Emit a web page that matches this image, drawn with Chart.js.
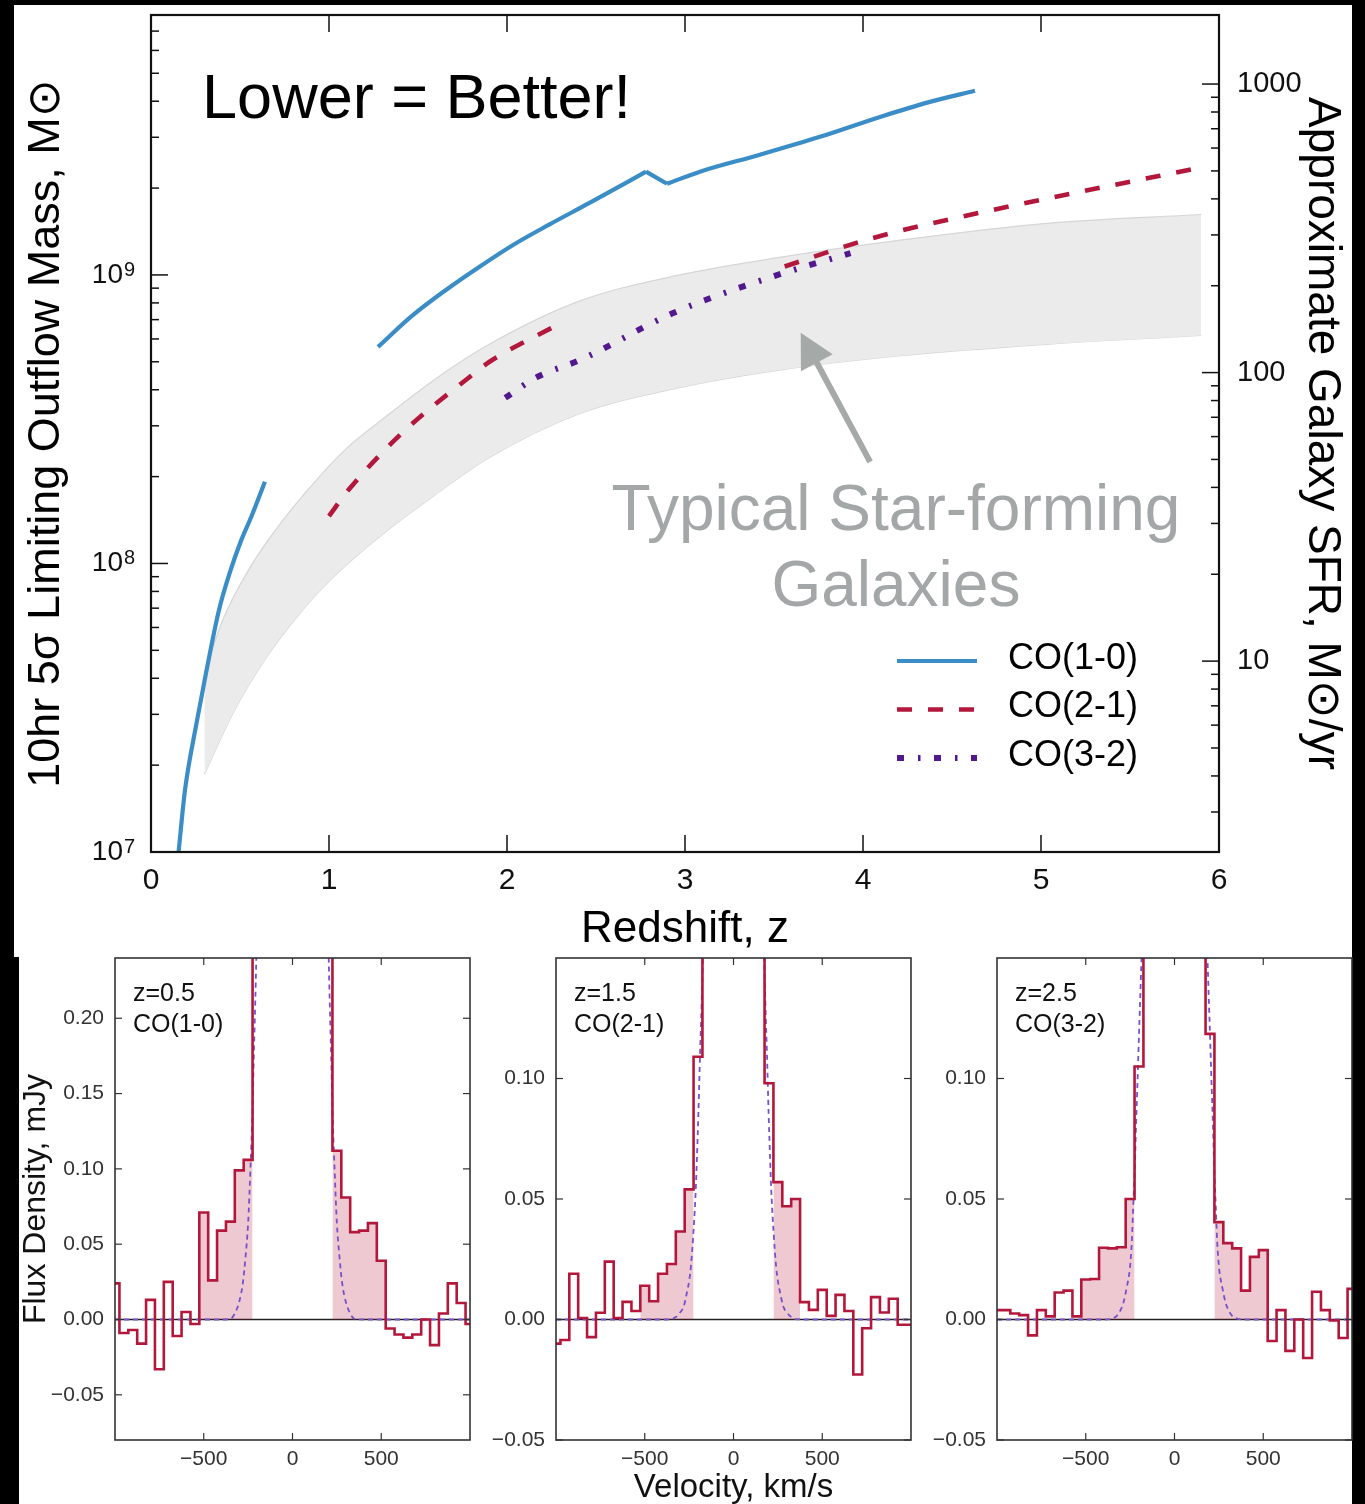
<!DOCTYPE html>
<html>
<head>
<meta charset="utf-8">
<script src="https://cdn.jsdelivr.net/npm/chart.js@4.4.1/dist/chart.umd.min.js"></script>
<style>
  html, body { margin: 0; padding: 0; background: #000; }
  body { width: 1365px; height: 1504px; position: relative; overflow: hidden; }
  .paper { position: absolute; background: #fff; }
  canvas { position: absolute; }
</style>
</head>
<body>
<div class="paper" style="left:14px;top:5px;width:1338px;height:952px"></div>
<div class="paper" style="left:19px;top:957px;width:1333px;height:547px"></div>
<canvas id="main-chart" width="1365" height="957" style="left:0;top:0"></canvas>
<canvas id="spec-1" width="460" height="549" style="left:20px;top:955px"></canvas>
<canvas id="spec-2" width="440" height="549" style="left:480px;top:955px"></canvas>
<canvas id="spec-3" width="445" height="549" style="left:920px;top:955px"></canvas>
<script>
const FONT = '"Liberation Sans", Arial, Helvetica, sans-serif';
const BLUE = '#3A8DC6';
const RED = '#B3173B';
const PURPLE = '#52198E';
const MODEL = '#7652C9';

// ---- top panel: limiting outflow mass vs redshift ----
const zTicks = [0, 1, 2, 3, 4, 5, 6];
const massTicks = [1e7, 1e8, 1e9];
const massTickBase = ['10', '10', '10'];
const massTickExp = ['7', '8', '9'];
const massMinorTicks = [2e7, 3e7, 4e7, 5e7, 6e7, 7e7, 8e7, 9e7, 2e8, 3e8, 4e8, 5e8, 6e8, 7e8, 8e8, 9e8, 2e9, 3e9, 4e9, 5e9, 6e9, 7e9];
const sfrTicks = [10, 100, 1000];
const sfrMinorTicks = [3, 4, 5, 6, 7, 8, 9, 20, 30, 40, 50, 60, 70, 80, 90, 200, 300, 400, 500, 600, 700, 800, 900];

const co10LowZ = [0.155, 0.191, 0.256, 0.309, 0.382, 0.444, 0.506, 0.567, 0.640];
const co10LowMass = [1.0e7, 1.64e7, 2.80e7, 4.17e7, 6.90e7, 9.35e7, 1.20e8, 1.47e8, 1.92e8];
const co10HighZ = [1.275, 1.466, 1.657, 1.848, 2.034, 2.242, 2.466, 2.781, 2.899, 3.084, 3.421, 3.758, 4.096, 4.376, 4.629];
const co10HighMass = [5.63e8, 7.21e8, 8.87e8, 1.07e9, 1.27e9, 1.50e9, 1.78e9, 2.28e9, 2.07e9, 2.28e9, 2.61e9, 3.01e9, 3.53e9, 3.98e9, 4.35e9];
const co10HighCorners = [7, 8]; // the sharp peak and dip of the curve
const co21LowZ = [1.00, 1.11, 1.41, 1.79, 1.90, 2.29];
const co21LowMass = [1.46e8, 1.80e8, 2.83e8, 4.43e8, 4.99e8, 6.75e8];
const co21HighZ = [3.56, 4.05, 4.69, 5.18, 5.89];
const co21HighMass = [1.07e9, 1.34e9, 1.66e9, 1.92e9, 2.35e9];
const co32Z = [1.99, 2.17, 2.41, 2.93, 3.49, 3.93];
const co32Mass = [3.75e8, 4.43e8, 5.07e8, 7.36e8, 9.86e8, 1.19e9];

// shaded band of typical star-forming galaxies
const bandUpperZ = [0.30, 0.40, 0.56, 0.74, 0.93, 1.10, 1.30, 1.60, 1.90, 2.41, 2.97, 3.53, 4.21, 5.03, 5.90];
const bandUpper = [4.17e7, 6.31e7, 9.77e7, 1.41e8, 1.95e8, 2.51e8, 3.16e8, 4.37e8, 5.75e8, 8.13e8, 1.0e9, 1.15e9, 1.32e9, 1.51e9, 1.62e9];
const bandLowerZ = [0.30, 0.46, 0.65, 0.84, 1.02, 1.21, 1.40, 1.58, 1.88, 2.41, 2.97, 3.53, 4.21, 5.03, 5.90];
const bandLower = [1.86e7, 3.02e7, 4.74e7, 6.76e7, 8.91e7, 1.135e8, 1.41e8, 1.70e8, 2.29e8, 3.31e8, 4.07e8, 4.68e8, 5.25e8, 5.75e8, 6.17e8];

// annotation anchors in data units (z, mass)
const headlineAt = { z: 0.287, m: 3.5e9 };
const bandLabelAt = { z: 4.185, m: 1.31e8, m2: 7.13e7 };
const arrowFrom = { z: 4.04, m: 2.25e8 };
const arrowTo = { z: 3.65, m: 6.3e8 };

// ---- bottom panels: spectra ----
const velocity = [-1000, -950, -900, -850, -800, -750, -700, -650, -600, -550, -500, -450, -400, -350, -300, -250, -200, -150, -100, -50, 0,
  50, 100, 150, 200, 250, 300, 350, 400, 450, 500, 550, 600, 650, 700, 750, 800, 850, 900, 950, 1000];
const velTicks = [-500, 0, 500];

const flux1 = [0.024, -0.009, -0.007, -0.016, 0.013, -0.033, 0.025, -0.011, 0.005, -0.003, 0.071, 0.026, 0.059, 0.065, 0.099, 0.106, 0.42, 0.9, 1.6, 2.2, 2.5,
  2.2, 1.6, 0.9, 0.42, 0.112, 0.081, 0.058, 0.059, 0.064, 0.039, -0.006, -0.010, -0.012, -0.010, 0.000, -0.017, 0.004, 0.024, 0.011, -0.003];
const flux2 = [-0.010, -0.0085, 0.019, 0.0006, -0.0073, 0.0028, 0.024, 0.0006, 0.0073, 0.0035, 0.014, 0.0076, 0.019, 0.023, 0.0365, 0.054, 0.109, 0.25, 0.55, 0.8, 0.9,
  0.8, 0.55, 0.25, 0.098, 0.057, 0.047, 0.050, 0.0072, 0.004, 0.0123, 0.0015, 0.0102, 0.0035, -0.0228, -0.0036, 0.0093, 0.0029, 0.0086, -0.0022, -0.0022];
const flux3 = [0.0039, 0.0039, 0.0025, 0.0018, -0.0066, 0.0039, 0.0013, 0.0112, 0.012, 0.0013, 0.0166, 0.0168, 0.0298, 0.0295, 0.030, 0.050, 0.105, 0.25, 0.55, 0.8, 0.9,
  0.8, 0.55, 0.25, 0.1185, 0.0404, 0.0317, 0.0295, 0.012, 0.026, 0.0288, -0.0089, 0.0039, -0.013, 0.0, -0.016, 0.0115, 0.0039, -0.0004, -0.0077, 0.0127];

const modelVel1 = [-1000, -400, -348, -325, -302, -280, -265, -250, -237, -225, -218, -210, -204, -195, -150, 0, 150, 195, 204, 210, 218, 225, 237, 250, 265, 280, 302, 325, 348, 400, 1000];
const model1 = [0, 0, 0.0005, 0.004, 0.011, 0.024, 0.041, 0.064, 0.10, 0.14, 0.175, 0.21, 0.24, 0.30, 0.80, 3.4, 0.80, 0.30, 0.24, 0.21, 0.175, 0.14, 0.10, 0.064, 0.041, 0.024, 0.011, 0.004, 0.0005, 0, 0];
const modelVel2 = [-1000, -400, -350, -325, -300, -280, -263, -250, -240, -226, -215, -207, -198, -189, -180, -170, -150, 0, 150, 170, 180, 189, 198, 207, 215, 226, 240, 250, 263, 280, 300, 325, 350, 400, 1000];
const model2 = [0, 0, 0.0002, 0.001, 0.003, 0.0055, 0.011, 0.016, 0.022, 0.036, 0.05, 0.065, 0.085, 0.109, 0.13, 0.16, 0.28, 1.43, 0.28, 0.16, 0.13, 0.109, 0.085, 0.065, 0.05, 0.036, 0.022, 0.016, 0.011, 0.0055, 0.003, 0.001, 0.0002, 0, 0];
const modelVel3 = [-1000, -400, -353, -325, -300, -288, -270, -251, -240, -232, -224, -217, -210, -204, -197, -191, -180, -150, 0, 150, 180, 191, 197, 204, 210, 217, 224, 232, 240, 251, 270, 288, 300, 325, 353, 400, 1000];
const model3 = [0, 0, 0.0004, 0.0015, 0.0045, 0.0069, 0.013, 0.0215, 0.033, 0.048, 0.062, 0.08, 0.095, 0.109, 0.125, 0.138, 0.17, 0.39, 1.78, 0.39, 0.17, 0.138, 0.125, 0.109, 0.095, 0.08, 0.062, 0.048, 0.033, 0.0215, 0.013, 0.0069, 0.0045, 0.0015, 0.0004, 0, 0];

const shade1 = [[-525, -225], [225, 525]];
const shade2 = [[-525, -225], [225, 375]];
const shade3 = [[-525, -225], [225, 525]];

function pts(xs, ys) {
  return xs.map((x, i) => ({ x: x, y: ys[i] }));
}

// cut one curve into pieces at the given point indices (sharp corners)
function pieces(xs, ys, cuts) {
  const out = [];
  let s = 0;
  cuts.concat([xs.length - 1]).forEach(c => {
    out.push(pts(xs.slice(s, c + 1), ys.slice(s, c + 1)));
    s = c;
  });
  return out;
}

function seg(ctx, x1, y1, x2, y2) {
  ctx.beginPath();
  ctx.moveTo(x1, y1);
  ctx.lineTo(x2, y2);
  ctx.stroke();
}

function minus(s) {
  return String(s).replace('-', '\u2212');
}

// scales keep no extra room for their outer labels; the layout is set by afterFit
function noPad(s) {
  s.paddingTop = 0; s.paddingBottom = 0; s.paddingLeft = 0; s.paddingRight = 0;
}

// frame, inward ticks, annotations and legend of the top panel
const mainDecor = {
  id: 'mainDecor',
  afterDatasetsDraw(chart) {
    const { ctx, chartArea: a, scales } = chart;
    const x = scales.x, y = scales.y, y2 = scales.y2;
    ctx.save();

    // texts
    ctx.textBaseline = 'alphabetic';
    ctx.fillStyle = '#000';
    ctx.font = '63px ' + FONT;
    ctx.textAlign = 'left';
    ctx.fillText('Lower = Better!', x.getPixelForValue(headlineAt.z), y.getPixelForValue(headlineAt.m));

    ctx.fillStyle = '#A3A7A7';
    ctx.font = '64px ' + FONT;
    ctx.textAlign = 'center';
    ctx.fillText('Typical Star-forming', x.getPixelForValue(bandLabelAt.z), y.getPixelForValue(bandLabelAt.m));
    ctx.fillText('Galaxies', x.getPixelForValue(bandLabelAt.z), y.getPixelForValue(bandLabelAt.m2));

    // arrow
    const tx = x.getPixelForValue(arrowTo.z), ty = y.getPixelForValue(arrowTo.m);
    const fx = x.getPixelForValue(arrowFrom.z), fy = y.getPixelForValue(arrowFrom.m);
    const len = Math.hypot(tx - fx, ty - fy);
    const ux = (tx - fx) / len, uy = (ty - fy) / len;
    const bx = tx - ux * 34, by = ty - uy * 34;
    ctx.strokeStyle = '#A5A9A8';
    ctx.fillStyle = '#A5A9A8';
    ctx.lineWidth = 6;
    seg(ctx, fx, fy, bx + ux * 2, by + uy * 2);
    ctx.beginPath();
    ctx.moveTo(tx, ty);
    ctx.lineTo(bx - uy * 18, by + ux * 18);
    ctx.lineTo(bx + uy * 18, by - ux * 18);
    ctx.closePath();
    ctx.fill();

    // legend
    const rows = chart.data.datasets.filter(d => d.showInLegend);
    ctx.font = '36px ' + FONT;
    ctx.textAlign = 'left';
    ctx.textBaseline = 'middle';
    rows.forEach((d, i) => {
      const ly = a.top + 646 + i * 48.5;
      ctx.strokeStyle = d.borderColor;
      ctx.lineWidth = d.borderWidth;
      ctx.setLineDash(d.borderDash || []);
      seg(ctx, a.right - 322, ly, a.right - 242, ly);
      ctx.setLineDash([]);
      ctx.fillStyle = '#000';
      ctx.fillText(d.label, a.right - 211, ly - 2);
    });

    // exponents of the mass tick labels
    ctx.font = '20px ' + FONT;
    ctx.fillStyle = '#111';
    ctx.textAlign = 'left';
    ctx.textBaseline = 'alphabetic';
    massTicks.forEach((v, i) => {
      ctx.fillText(massTickExp[i], a.left - 27, y.getPixelForValue(v) + 1);
    });

    // ticks
    ctx.strokeStyle = '#111';
    ctx.lineWidth = 1.5;
    zTicks.forEach(v => {
      const px = x.getPixelForValue(v);
      seg(ctx, px, a.bottom, px, a.bottom - 17);
      seg(ctx, px, a.top, px, a.top + 17);
    });
    massTicks.forEach(v => { const py = y.getPixelForValue(v); seg(ctx, a.left, py, a.left + 17, py); });
    massMinorTicks.forEach(v => { const py = y.getPixelForValue(v); seg(ctx, a.left, py, a.left + 8, py); });
    sfrTicks.forEach(v => { const py = y2.getPixelForValue(v); seg(ctx, a.right, py, a.right - 17, py); });
    sfrMinorTicks.forEach(v => { const py = y2.getPixelForValue(v); seg(ctx, a.right, py, a.right - 8, py); });

    ctx.lineWidth = 2.2;
    ctx.strokeRect(a.left, a.top, a.right - a.left, a.bottom - a.top);
    ctx.restore();
  }
};

const lineBase = { pointRadius: 0, fill: false, cubicInterpolationMode: 'monotone', borderCapStyle: 'butt' };
const blueStyle = { label: 'CO(1-0)', borderColor: BLUE, borderWidth: 4.2, order: 2 };
const redStyle = { label: 'CO(2-1)', borderColor: RED, borderWidth: 4.6, borderDash: [15, 16], order: 1 };
const purpleStyle = { label: 'CO(3-2)', borderColor: PURPLE, borderWidth: 6, borderDash: [7, 14, 2.5, 13.5], order: 0 };

const mainSets = [
  Object.assign({}, lineBase, { label: 'band lower', data: pts(bandLowerZ, bandLower), borderColor: '#D6D6D6', borderWidth: 1.2, order: 10 }),
  Object.assign({}, lineBase, { label: 'band upper', data: pts(bandUpperZ, bandUpper), borderColor: '#D6D6D6', borderWidth: 1.2, backgroundColor: '#EBEBEB', fill: 0, order: 9 }),
  Object.assign({}, lineBase, blueStyle, { showInLegend: true, data: pts(co10LowZ, co10LowMass) })
].concat(
  pieces(co10HighZ, co10HighMass, co10HighCorners).map(d => Object.assign({}, lineBase, blueStyle, { data: d })),
  [
    Object.assign({}, lineBase, redStyle, { showInLegend: true, data: pts(co21LowZ, co21LowMass) }),
    Object.assign({}, lineBase, redStyle, { data: pts(co21HighZ, co21HighMass) }),
    Object.assign({}, lineBase, purpleStyle, { showInLegend: true, data: pts(co32Z, co32Mass) })
  ]
);

new Chart(document.getElementById('main-chart'), {
  type: 'line',
  data: { datasets: mainSets },
  options: {
    responsive: false,
    animation: false,
    devicePixelRatio: 1,
    layout: { padding: { top: 15, left: 0, right: 0, bottom: 0 } },
    plugins: { legend: { display: false }, tooltip: { enabled: false } },
    scales: {
      x: {
        type: 'linear', min: 0, max: 6,
        afterBuildTicks: s => { s.ticks = zTicks.map(v => ({ value: v })); },
        afterFit: s => { s.height = 105; noPad(s); },
        grid: { display: false, drawTicks: false }, border: { display: false },
        ticks: { font: { family: FONT, size: 30 }, color: '#111', padding: 11, maxRotation: 0, callback: v => String(v) },
        title: { display: true, text: 'Redshift, z', color: '#000', font: { family: FONT, size: 44, lineHeight: 1 }, padding: { top: 0, bottom: 5 } }
      },
      y: {
        type: 'logarithmic', position: 'left', min: 1e7, max: 7.96e9,
        afterBuildTicks: s => { s.ticks = massTicks.map(v => ({ value: v })); },
        afterFit: s => { s.width = 151; noPad(s); },
        grid: { display: false, drawTicks: false }, border: { display: false },
        ticks: { font: { family: FONT, size: 28 }, color: '#111', padding: 28, callback: (v, i) => massTickBase[i] },
        title: { display: true, text: '10hr 5σ Limiting Outflow Mass, M⊙', color: '#000', font: { family: FONT, size: 45, lineHeight: 1 }, padding: { top: 24, bottom: 0 } }
      },
      y2: {
        type: 'logarithmic', position: 'right', min: 2.18, max: 1735,
        afterBuildTicks: s => { s.ticks = sfrTicks.map(v => ({ value: v })); },
        afterFit: s => { s.width = 146; noPad(s); },
        grid: { display: false, drawTicks: false }, border: { display: false },
        ticks: { font: { family: FONT, size: 29 }, color: '#111', padding: 18, callback: v => String(v) },
        title: { display: true, text: 'Approximate Galaxy SFR, M⊙/yr', color: '#000', font: { family: FONT, size: 46, lineHeight: 1 }, padding: { top: 20, bottom: 0 } }
      }
    }
  },
  plugins: [mainDecor]
});

// ---- spectra ----
const specDecor = {
  id: 'specDecor',
  beforeDatasetsDraw(chart) {
    const { ctx, chartArea: a, scales: { y } } = chart;
    const y0 = y.getPixelForValue(0);
    ctx.save();
    ctx.strokeStyle = '#222';
    ctx.lineWidth = 1.6;
    seg(ctx, a.left, y0, a.right, y0);
    ctx.restore();
  },
  afterDraw(chart) {
    const { ctx, chartArea: a, scales: { x, y } } = chart;
    const o = chart.options.plugins.specDecor;
    ctx.save();
    ctx.strokeStyle = '#333';
    ctx.lineWidth = 1.2;
    velTicks.forEach(v => {
      const px = x.getPixelForValue(v);
      seg(ctx, px, a.bottom, px, a.bottom - 7);
      seg(ctx, px, a.top, px, a.top + 7);
    });
    o.yTicks.forEach(v => {
      const py = y.getPixelForValue(v);
      seg(ctx, a.left, py, a.left + 7, py);
      seg(ctx, a.right, py, a.right - 7, py);
    });
    ctx.lineWidth = 1.6;
    ctx.strokeRect(a.left, a.top, a.right - a.left, a.bottom - a.top);
    ctx.fillStyle = '#111';
    ctx.font = '25px ' + FONT;
    ctx.textAlign = 'left';
    ctx.textBaseline = 'alphabetic';
    ctx.fillText(o.redshift, a.left + 18, a.top + 43);
    ctx.fillText(o.line, a.left + 18, a.top + 74);
    ctx.restore();
  }
};

function spectrumChart(id, p) {
  const shadeSets = p.shade.map(r => {
    const data = [];
    velocity.forEach((v, i) => { if (v > r[0] && v < r[1]) data.push({ x: v, y: p.flux[i] }); });
    data.unshift({ x: r[0], y: data[0].y });
    data.push({ x: r[1], y: data[data.length - 1].y });
    return { data: data, stepped: 'middle', borderWidth: 0, pointRadius: 0, backgroundColor: 'rgba(180,21,58,0.23)', fill: { value: 0 }, order: 3, clip: 0 };
  });
  return new Chart(document.getElementById(id), {
    type: 'line',
    data: {
      datasets: [
        { data: pts(velocity, p.flux), stepped: 'middle', borderColor: RED, borderWidth: 2.6, pointRadius: 0, fill: false, order: 0, clip: 0 },
        { data: pts(p.modelVel, p.model), borderColor: MODEL, borderWidth: 1.8, borderDash: [5, 4], pointRadius: 0, fill: false, cubicInterpolationMode: 'monotone', order: 1, clip: 0 }
      ].concat(shadeSets)
    },
    options: {
      responsive: false,
      animation: false,
      devicePixelRatio: 1,
      layout: { padding: { top: 3, left: 0, right: p.padRight, bottom: 0 } },
      plugins: {
        legend: { display: false }, tooltip: { enabled: false },
        specDecor: { yTicks: p.yTicks, redshift: p.redshift, line: p.line }
      },
      scales: {
        x: {
          type: 'linear', min: -1000, max: 1000,
          afterBuildTicks: s => { s.ticks = velTicks.map(v => ({ value: v })); },
          afterFit: s => { s.height = 64; noPad(s); },
          grid: { display: false, drawTicks: false }, border: { display: false },
          ticks: { font: { family: FONT, size: 21 }, color: '#333', padding: 7, maxRotation: 0, callback: v => minus(v) },
          title: { display: !!p.xTitle, text: p.xTitle || '', color: '#111', font: { family: FONT, size: 33, lineHeight: 1 }, padding: { top: 0, bottom: -0.5 } }
        },
        y: {
          type: 'linear', min: p.yMin, max: p.yMax,
          afterBuildTicks: s => { s.ticks = p.yTicks.map(v => ({ value: v })); },
          afterFit: s => { s.width = p.yWidth; noPad(s); },
          grid: { display: false, drawTicks: false }, border: { display: false },
          ticks: { font: { family: FONT, size: 21 }, color: '#333', padding: 11, callback: v => minus(v.toFixed(2)) },
          title: { display: !!p.yTitle, text: p.yTitle || '', color: '#111', font: { family: FONT, size: 32, lineHeight: 1 }, padding: { top: 0, bottom: 0 } }
        }
      }
    },
    plugins: [specDecor]
  });
}

spectrumChart('spec-1', {
  flux: flux1, modelVel: modelVel1, model: model1, shade: shade1,
  yMin: -0.08, yMax: 0.24, yTicks: [-0.05, 0, 0.05, 0.10, 0.15, 0.20],
  yWidth: 95, padRight: 10, redshift: 'z=0.5', line: 'CO(1-0)', yTitle: 'Flux Density, mJy'
});
spectrumChart('spec-2', {
  flux: flux2, modelVel: modelVel2, model: model2, shade: shade2,
  yMin: -0.05, yMax: 0.15, yTicks: [-0.05, 0, 0.05, 0.10],
  yWidth: 76, padRight: 9, redshift: 'z=1.5', line: 'CO(2-1)', xTitle: 'Velocity, km/s'
});
spectrumChart('spec-3', {
  flux: flux3, modelVel: modelVel3, model: model3, shade: shade3,
  yMin: -0.05, yMax: 0.15, yTicks: [-0.05, 0, 0.05, 0.10],
  yWidth: 77, padRight: 13, redshift: 'z=2.5', line: 'CO(3-2)'
});
</script>
</body>
</html>
